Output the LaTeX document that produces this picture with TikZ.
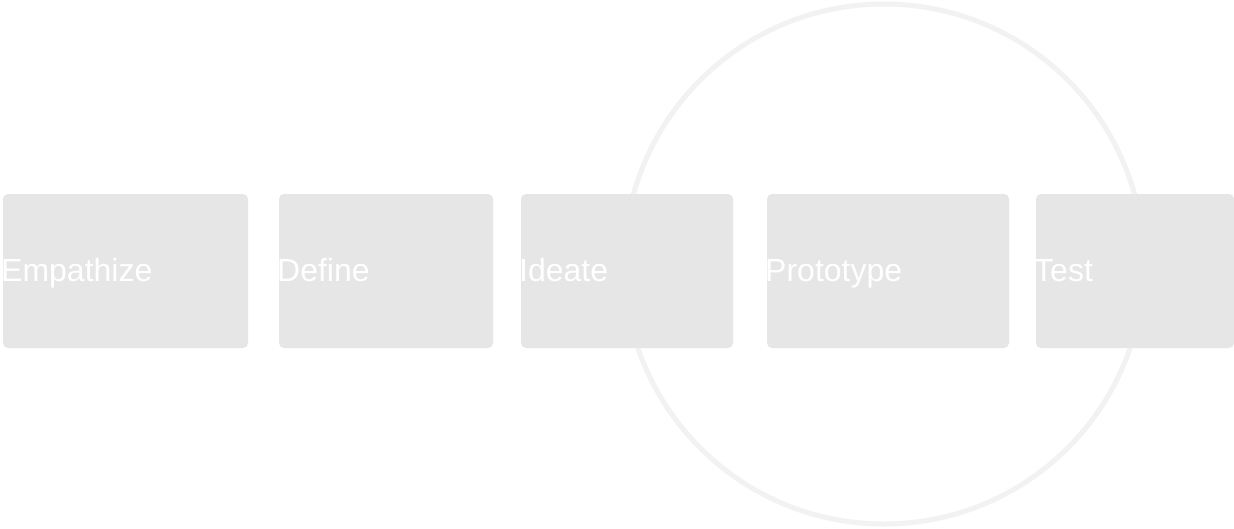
\documentclass[tikz,border=0pt]{standalone}
\usepackage{fontspec}
\setmainfont{Liberation Sans}
\definecolor{boxgray}{HTML}{E6E6E6}
\definecolor{ringgray}{HTML}{F2F2F2}
\begin{document}
\begin{tikzpicture}[x=1pt,y=-1pt,
  stagebox/.style={fill=boxgray, draw=none, rounded corners=5pt},
  stagelabel/.style={anchor=base west, inner sep=0pt, text=white, font=\fontsize{32}{38}\selectfont},
  ring/.style={draw=ringgray, line width=5pt}]
\useasboundingbox (0,0) rectangle (1234,528);
\fill[white] (0,0) rectangle (1234,528);
\node[ring, circle, minimum size=520pt, inner sep=0pt] (cycle) at (884,264) {};
\fill[stagebox] (3,194) rectangle (248,348);
\fill[stagebox] (279,194) rectangle (493,348);
\fill[stagebox] (521,194) rectangle (733,348);
\fill[stagebox] (767,194) rectangle (1009,348);
\fill[stagebox] (1036,194) rectangle (1234,348);
\node[stagelabel] (empathize) at (1,281) {Empathize};
\node[stagelabel] (define) at (277,281) {Define};
\node[stagelabel] (ideate) at (519,281) {Ideate};
\node[stagelabel] (prototype) at (765,281) {Prototype};
\node[stagelabel] (test) at (1034,281) {Test};
\end{tikzpicture}
\end{document}
